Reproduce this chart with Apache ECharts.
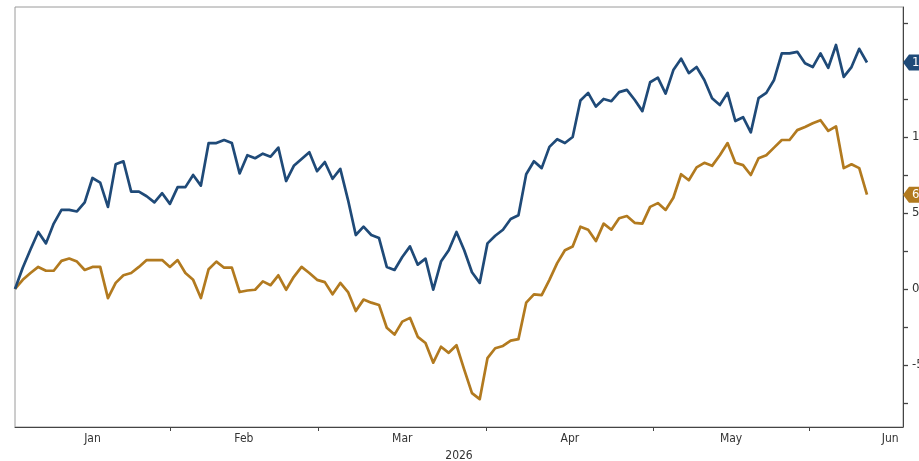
<!DOCTYPE html>
<html>
<head>
<meta charset="utf-8">
<style>
  html, body { margin: 0; padding: 0; background: #ffffff; }
  #chart { width: 919px; height: 461px; }
</style>
<script src="https://cdn.jsdelivr.net/npm/echarts@6/dist/echarts.min.js"></script>
</head>
<body>
<div id="chart"></div>
<script>
// Trading-day index series (cumulative % change since start of year)
const blueValues = [
  0.0, 1.4, 2.6, 3.75, 3.0, 4.3, 5.2, 5.2, 5.1, 5.7,
  7.3, 7.0, 5.4, 8.2, 8.4, 6.4, 6.4, 6.1, 5.7, 6.3,
  5.6, 6.7, 6.7, 7.5, 6.8, 9.6, 9.6, 9.8, 9.6, 7.6,
  8.8, 8.6, 8.9, 8.7, 9.3, 7.1, 8.1, 8.55, 9.0, 7.75,
  8.35, 7.25, 7.9, 5.85, 3.55, 4.1, 3.55, 3.35, 1.45, 1.25,
  2.1, 2.8, 1.6, 2.0, -0.05, 1.8, 2.55, 3.75, 2.55, 1.1,
  0.4, 3.0, 3.5, 3.9, 4.6, 4.85, 7.55, 8.4, 7.95, 9.35,
  9.85, 9.6, 10.0, 12.4, 12.9, 12.0, 12.5, 12.35, 12.95, 13.1,
  12.45, 11.7, 13.6, 13.9, 12.85, 14.4, 15.15, 14.2, 14.6, 13.75,
  12.55, 12.1, 12.9, 11.05, 11.3, 10.3, 12.55, 12.9, 13.75, 15.5,
  15.5, 15.6, 14.85, 14.6, 15.5, 14.55, 16.05, 13.95, 14.6, 15.8,
  14.9
];
const orangeValues = [
  0.0, 0.6, 1.05, 1.45, 1.2, 1.2, 1.85, 2.0, 1.8, 1.25,
  1.45, 1.45, -0.6, 0.4, 0.9, 1.05, 1.45, 1.9, 1.9, 1.9,
  1.45, 1.9, 1.05, 0.6, -0.6, 1.3, 1.8, 1.4, 1.4, -0.2,
  -0.1, -0.05, 0.5, 0.25, 0.9, -0.05, 0.8, 1.45, 1.05, 0.6,
  0.45, -0.35, 0.4, -0.2, -1.45, -0.7, -0.9, -1.05, -2.55, -3.0,
  -2.15, -1.9, -3.15, -3.55, -4.85, -3.8, -4.2, -3.7, -5.3, -6.85,
  -7.25, -4.55, -3.9, -3.75, -3.4, -3.3, -0.9, -0.35, -0.4, 0.6,
  1.7, 2.55, 2.8, 4.1, 3.9, 3.15, 4.3, 3.9, 4.65, 4.8,
  4.35, 4.3, 5.4, 5.65, 5.2, 6.0, 7.55, 7.15, 8.0, 8.3,
  8.1, 8.8, 9.6, 8.3, 8.15, 7.5, 8.6, 8.8, 9.3, 9.8,
  9.8, 10.45, 10.65, 10.9, 11.1, 10.4, 10.7, 7.95, 8.2, 7.95,
  6.2
];

// Month boundaries on the trading-day index scale, and month names
const monthNames = ['Jan', 'Feb', 'Mar', 'Apr', 'May', 'Jun'];
const monthBounds = [0, 20, 39.1, 60.9, 82.4, 102.5, 123.5];
const yearLabel = '2026';

// Y axis ticks
const yMajorTicks = [-5, 0, 5, 10, 15];
const yAllTicks = [-7.5, -5, -2.5, 0, 2.5, 5, 7.5, 10, 12.5, 15, 17.5];
const yMin = -9.08;
const yMax = 18.55;
const xMax = 114.65;

const BLUE = '#1f4a78';
const ORANGE = '#b27a1f';
const FONT = "'DejaVu Sans Condensed', 'Liberation Sans Narrow', 'DejaVu Sans', sans-serif";

const monthMids = monthNames.map((n, i) => (monthBounds[i] + monthBounds[i + 1]) / 2);
const monthTicks = monthBounds.filter(v => v > 0 && v <= xMax);

const toPairs = arr => arr.map((v, i) => [i, v]);

function tag(color, values) {
  const last = values[values.length - 1];
  return {
    silent: true,
    symbol: 'path://M0,8 L6,0 L46,0 L46,16 L6,16 Z',
    symbolSize: [46, 16],
    symbolOffset: [23, 0],
    itemStyle: { color: color },
    label: {
      show: true,
      position: 'insideLeft',
      distance: 9,
      color: '#ffffff',
      fontSize: 13,
      fontFamily: FONT,
      formatter: p => Number(p.value).toFixed(2)
    },
    data: [{ coord: [xMax, last], value: last }]
  };
}

const chart = echarts.init(document.getElementById('chart'), null, { renderer: 'canvas' });
chart.setOption({
  animation: false,
  backgroundColor: '#ffffff',
  grid: {
    left: 15, right: 16, top: 7, bottom: 34,
    show: true, borderColor: '#9a9a9a', borderWidth: 1,
    containLabel: false, outerBoundsMode: 'none'
  },
  xAxis: [{
    type: 'value',
    min: 0, max: xMax,
    name: yearLabel,
    nameLocation: 'middle',
    nameGap: 23,
    nameTextStyle: { color: '#333', fontSize: 12, fontFamily: FONT },
    axisLine: { show: true, onZero: false, lineStyle: { color: '#444', width: 1 } },
    axisTick: { show: true, inside: false, length: 4, customValues: monthTicks, lineStyle: { color: '#444' } },
    axisLabel: {
      show: true, margin: 6, color: '#333', fontSize: 12, fontFamily: FONT,
      customValues: monthMids,
      formatter: v => {
        let best = 0, bd = Infinity;
        monthMids.forEach((m, i) => { const d = Math.abs(m - v); if (d < bd) { bd = d; best = i; } });
        return monthNames[best];
      }
    },
    splitLine: { show: false }
  }],
  yAxis: [{
    type: 'value',
    position: 'right',
    min: yMin, max: yMax,
    axisLine: { show: true, onZero: false, lineStyle: { color: '#444', width: 1 } },
    axisTick: { show: true, inside: false, length: 5, customValues: yAllTicks, lineStyle: { color: '#444', width: 1.3 } },
    axisLabel: {
      show: true, margin: 9, color: '#333', fontSize: 13, fontFamily: FONT,
      customValues: yMajorTicks,
      formatter: v => String(Math.round(v))
    },
    splitLine: { show: false }
  }],
  series: [{
    name: 'Blue',
    type: 'line',
    data: toPairs(blueValues),
    showSymbol: false,
    symbol: 'none',
    lineStyle: { color: BLUE, width: 2.7, join: 'round' },
    itemStyle: { color: BLUE },
    z: 3,
    markPoint: tag(BLUE, blueValues)
  }, {
    name: 'Orange',
    type: 'line',
    data: toPairs(orangeValues),
    showSymbol: false,
    symbol: 'none',
    lineStyle: { color: ORANGE, width: 2.7, join: 'round' },
    itemStyle: { color: ORANGE },
    z: 2,
    markPoint: tag(ORANGE, orangeValues)
  }]
});
</script>
</body>
</html>
